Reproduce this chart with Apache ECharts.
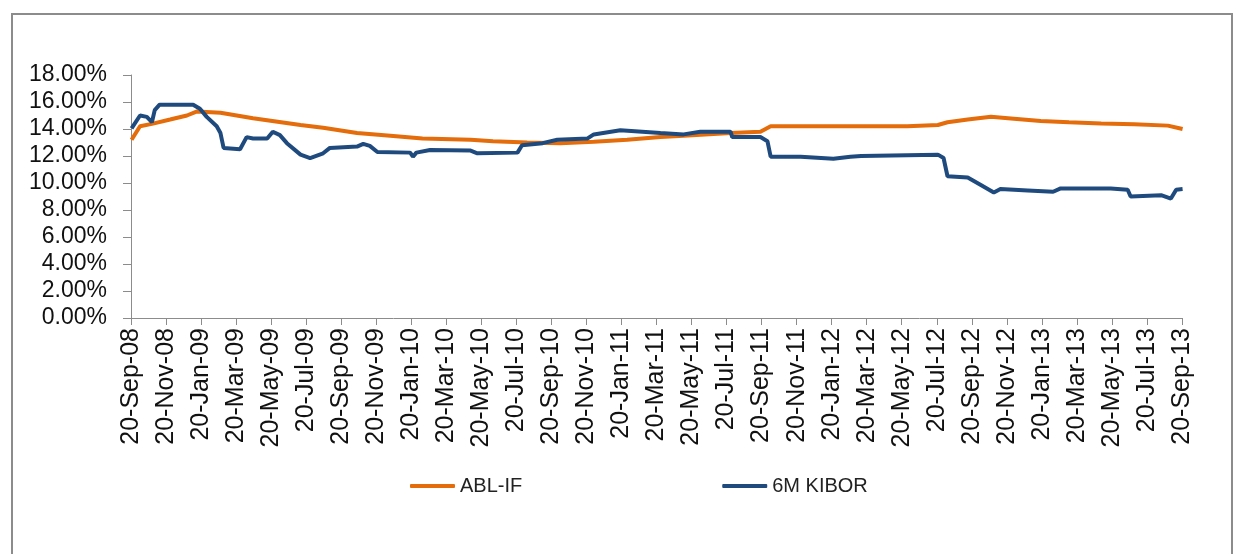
<!DOCTYPE html>
<html>
<head>
<meta charset="utf-8">
<script src="https://cdn.jsdelivr.net/npm/echarts@6/dist/echarts.min.js"></script>
<style>
  html, body { margin: 0; padding: 0; background: #fff; }
  #chart { width: 1240px; height: 554px; }
</style>
</head>
<body>
<div id="chart"></div>
<script>
  // ABL-IF yield, %
  var ablDates = ['2008-09-21', '2008-10-05', '2008-10-28', '2008-11-27', '2008-12-26', '2009-01-13',
    '2009-02-23', '2009-04-19', '2009-07-10', '2009-08-19', '2009-10-17', '2009-12-14', '2010-02-10',
    '2010-05-01', '2010-06-10', '2010-08-08', '2010-10-05', '2010-12-02', '2011-01-30', '2011-03-27',
    '2011-05-06', '2011-07-27', '2011-09-18', '2011-10-05', '2011-12-26', '2012-02-22', '2012-05-30',
    '2012-07-22', '2012-08-08', '2012-09-13', '2012-10-23', '2012-11-22', '2013-01-18', '2013-03-06',
    '2013-05-01', '2013-06-28', '2013-08-26', '2013-09-21'];
  var ablValues = [13.2, 14.2, 14.4, 14.7, 15.0, 15.3,
    15.2, 14.8, 14.3, 14.1, 13.7, 13.5, 13.3,
    13.2, 13.1, 13.0, 12.95, 13.05, 13.2, 13.4,
    13.5, 13.7, 13.8, 14.2, 14.2, 14.2, 14.2,
    14.3, 14.5, 14.7, 14.9, 14.8, 14.6, 14.5,
    14.4, 14.35, 14.25, 14.0];

  // 6M KIBOR, %
  var kiborDates = ['2008-09-21', '2008-10-05', '2008-10-17', '2008-10-26', '2008-10-31', '2008-11-09',
    '2009-01-06', '2009-01-18', '2009-01-30', '2009-02-17', '2009-02-23', '2009-02-28', '2009-03-27',
    '2009-04-08', '2009-04-19', '2009-05-13', '2009-05-23', '2009-06-05', '2009-06-17', '2009-07-10',
    '2009-07-27', '2009-08-19', '2009-08-31', '2009-10-17', '2009-10-28', '2009-11-09', '2009-11-22',
    '2010-01-18', '2010-01-23', '2010-01-29', '2010-02-22', '2010-05-01', '2010-05-13', '2010-07-22',
    '2010-07-30', '2010-09-05', '2010-09-30', '2010-11-22', '2010-12-02', '2011-01-18', '2011-03-27',
    '2011-05-06', '2011-06-05', '2011-07-27', '2011-07-30', '2011-09-18', '2011-09-30', '2011-10-05',
    '2011-11-27', '2012-01-23', '2012-02-22', '2012-03-10', '2012-07-22', '2012-08-01', '2012-08-08',
    '2012-09-13', '2012-10-05', '2012-10-28', '2012-11-09', '2012-12-26', '2013-02-10', '2013-02-22',
    '2013-05-18', '2013-06-17', '2013-06-22', '2013-08-14', '2013-09-01', '2013-09-10', '2013-09-21'];
  var kiborValues = [14.05, 15.0, 14.9, 14.5, 15.4, 15.8,
    15.8, 15.5, 14.9, 14.2, 13.7, 12.6, 12.5,
    13.4, 13.3, 13.3, 13.8, 13.55, 12.95, 12.1,
    11.85, 12.2, 12.6, 12.7, 12.9, 12.75, 12.3,
    12.25, 11.95, 12.25, 12.45, 12.4, 12.2, 12.25,
    12.8, 12.95, 13.2, 13.3, 13.6, 13.9, 13.7,
    13.6, 13.8, 13.8, 13.4, 13.4, 13.1, 11.95,
    11.95, 11.8, 11.95, 12.0, 12.1, 11.85, 10.5,
    10.4, 9.85, 9.3, 9.55, 9.45, 9.35, 9.6,
    9.6, 9.5, 9.0, 9.1, 8.85, 9.5, 9.55];

  var monthNames = ['Jan', 'Feb', 'Mar', 'Apr', 'May', 'Jun', 'Jul', 'Aug', 'Sep', 'Oct', 'Nov', 'Dec'];

  // months since 20-Sep-08 (fractional)
  function monthPos(s) {
    var p = s.split('-').map(Number);
    var dim = new Date(p[0], p[1], 0).getDate();
    return (p[0] - 2008) * 12 + (p[1] - 9) + (p[2] - 20) / dim;
  }

  function pairs(dates, values) {
    return dates.map(function (d, i) { return [monthPos(d), values[i]]; });
  }

  var chart = echarts.init(document.getElementById('chart'));
  var font = '"Liberation Sans", Arial, sans-serif';
  var axisGray = '#8c8c8c';

  chart.setOption({
    animation: false,
    graphic: [{
      type: 'rect',
      shape: { x: 12, y: 14, width: 1220, height: 600 },
      style: { fill: 'none', stroke: axisGray, lineWidth: 2 }
    }],
    grid: { left: 131, right: 58, top: 75, bottom: 236 },
    legend: {
      left: 405,
      top: 471,
      itemGap: 200,
      itemWidth: 45,
      itemHeight: 4,
      icon: 'roundRect',
      textStyle: { fontFamily: font, fontSize: 20, color: '#222' },
      data: ['ABL-IF', '6M KIBOR']
    },
    xAxis: {
      type: 'value',
      min: 0,
      max: 60,
      interval: 2,
      splitLine: { show: false },
      axisLine: { lineStyle: { color: axisGray, width: 1 } },
      axisTick: { length: 7, lineStyle: { color: axisGray } },
      axisLabel: {
        rotate: 90,
        margin: 10,
        fontFamily: font,
        fontSize: 25,
        color: '#111',
        formatter: function (v) {
          var m = 8 + Math.round(v);
          var yy = 8 + Math.floor(m / 12);
          return '20-' + monthNames[m % 12] + '-' + (yy < 10 ? '0' + yy : yy);
        }
      }
    },
    yAxis: {
      type: 'value',
      min: 0,
      max: 18,
      interval: 2,
      splitLine: { show: false },
      axisLine: { show: true, lineStyle: { color: axisGray, width: 1 } },
      axisTick: { show: true, length: 8, lineStyle: { color: axisGray } },
      axisLabel: {
        margin: 24,
        fontFamily: font,
        fontSize: 23,
        color: '#111',
        formatter: function (v) { return v.toFixed(2) + '%'; }
      }
    },
    series: [
      {
        name: 'ABL-IF',
        type: 'line',
        symbol: 'none',
        data: pairs(ablDates, ablValues),
        lineStyle: { color: '#E46C0A', width: 4 },
        itemStyle: { color: '#E46C0A' }
      },
      {
        name: '6M KIBOR',
        type: 'line',
        symbol: 'none',
        data: pairs(kiborDates, kiborValues),
        lineStyle: { color: '#1F4A7E', width: 4 },
        itemStyle: { color: '#1F4A7E' }
      }
    ]
  });
</script>
</body>
</html>
